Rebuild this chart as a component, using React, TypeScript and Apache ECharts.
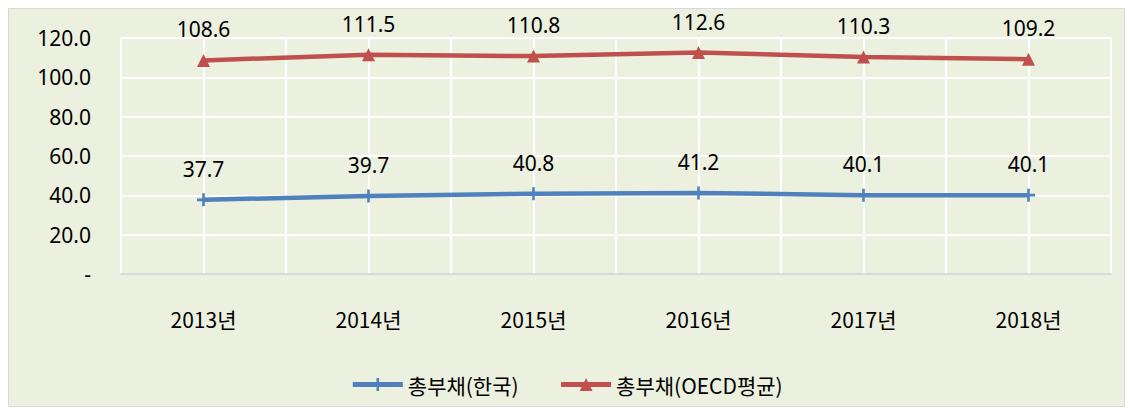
import React, { useEffect, useRef } from "react";
import * as echarts from "echarts";

const categories = ["2013년", "2014년", "2015년", "2016년", "2017년", "2018년"];
const korea = [37.7, 39.7, 40.8, 41.2, 40.1, 40.1];
const oecd = [108.6, 111.5, 110.8, 112.6, 110.3, 109.2];
const seriesNames = ["총부채(한국)", "총부채(OECD평균)"];

const FONT = "'Noto Sans', 'Noto Sans CJK KR', sans-serif";
const CROSS = "path://M4,0h2v4h4v2h-4v4h-2v-4h-4v-2h4z";

export default function App() {
  const ref = useRef<HTMLDivElement>(null);
  useEffect(() => {
    const chart = echarts.init(ref.current!, null, { renderer: "svg" });
    chart.setOption({
      animation: false,
      backgroundColor: "#ebf1de",
      textStyle: { fontFamily: FONT },
      grid: { left: 112, right: 13, top: 29, bottom: 132 },
      legend: {
        top: 360,
        left: "center",
        itemWidth: 50,
        itemHeight: 16,
        itemGap: 40,
        lineStyle: { width: 5 },
        textStyle: { fontSize: 21, color: "#000", fontFamily: "'Noto Sans CJK KR', sans-serif" },
        data: [seriesNames[0], seriesNames[1]],
      },
      xAxis: [
        {
          type: "category",
          data: categories,
          boundaryGap: true,
          axisLine: { show: true, lineStyle: { color: "#d9d9d9", width: 2 } },
          axisTick: { show: false },
          axisLabel: { fontSize: 21, color: "#000", margin: 34, fontFamily: "'Noto Sans CJK KR', sans-serif" },
          splitLine: { show: false },
        },
        {
          type: "value",
          min: 0,
          max: 12,
          interval: 1,
          show: true,
          position: "top",
          axisLine: { show: false },
          axisTick: { show: false },
          axisLabel: { show: false },
          splitLine: { show: true, lineStyle: { color: "#ffffff", width: 2 } },
        },
      ],
      yAxis: {
        type: "value",
        min: 0,
        max: 120,
        interval: 20,
        axisLine: { show: false },
        axisTick: { show: false },
        axisLabel: {
          fontSize: 21,
          color: "#000",
          margin: 30,
          formatter: (v: number) => (v === 0 ? "-" : v.toFixed(1)),
        },
        splitLine: { show: true, lineStyle: { color: "#ffffff", width: 2 } },
      },
      series: [
        {
          name: seriesNames[0],
          type: "line",
          data: korea,
          symbol: CROSS,
          symbolSize: 13,
          lineStyle: { color: "#4f81bd", width: 4.5 },
          itemStyle: { color: "#4f81bd" },
          label: {
            show: true,
            position: "top",
            distance: 14,
            fontSize: 21,
            color: "#000",
            formatter: (p: any) => p.value.toFixed(1),
          },
        },
        {
          name: seriesNames[1],
          type: "line",
          data: oecd,
          symbol: "triangle",
          symbolSize: 13,
          lineStyle: { color: "#c0504d", width: 4.5 },
          itemStyle: { color: "#c0504d" },
          label: {
            show: true,
            position: "top",
            distance: 14,
            fontSize: 21,
            color: "#000",
            formatter: (p: any) => p.value.toFixed(1),
          },
        },
      ],
    });
    return () => chart.dispose();
  }, []);
  return (
    <div
      ref={ref}
      style={{ width: 1117, height: 399, border: "1px solid #d9d9d9", boxSizing: "border-box" }}
    />
  );
}
